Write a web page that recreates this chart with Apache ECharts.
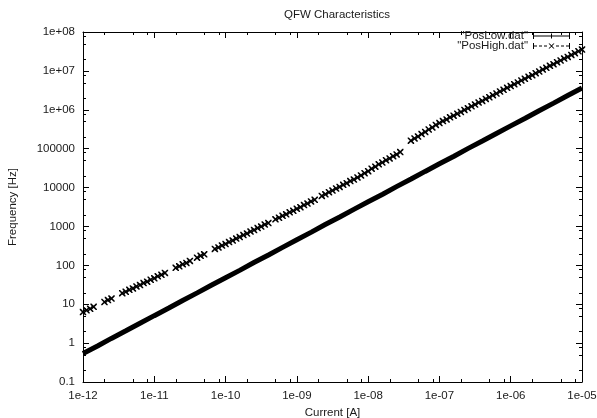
<!DOCTYPE html>
<html>
<head>
<meta charset="utf-8">
<title>QFW Characteristics</title>
<script src="https://cdn.jsdelivr.net/npm/echarts@6/dist/echarts.min.js"></script>
<style>
  html, body { margin: 0; padding: 0; background: #fff; }
  #chart { width: 597px; height: 418px; }
</style>
</head>
<body>
<div id="chart"></div>
<script>
// Tick labels, gnuplot style
const xTickLabels = ['1e-12', '1e-11', '1e-10', '1e-09', '1e-08', '1e-07', '1e-06', '1e-05'];
const yTickLabels = ['0.1', '1', '10', '100', '1000', '10000', '100000', '1e+06', '1e+07', '1e+08'];
const minorMantissas = [2, 5, 8];

// Measured [current (A), frequency (Hz)]
const posLow = [
  [1.0e-12, 0.54], [1.6e-12, 0.84], [2.5e-12, 1.32], [4.0e-12, 2.07], [6.3e-12, 3.24],
  [1.0e-11, 5.08], [1.6e-11, 7.97], [2.5e-11, 12.5], [4.0e-11, 19.6], [6.3e-11, 30.7],
  [1.0e-10, 48.1], [1.6e-10, 75.4], [2.5e-10, 118], [4.0e-10, 185], [6.3e-10, 290],
  [1.0e-9, 455], [1.6e-9, 713], [2.5e-9, 1118], [4.0e-9, 1752], [6.3e-9, 2747],
  [1.0e-8, 4306], [1.6e-8, 6750], [2.5e-8, 10580], [4.0e-8, 16580], [6.3e-8, 25990],
  [1.0e-7, 40740], [1.6e-7, 63870], [2.5e-7, 100100], [4.0e-7, 156900], [6.3e-7, 246000],
  [1.0e-6, 385500], [1.6e-6, 604300], [2.5e-6, 947100], [4.0e-6, 1485000], [6.3e-6, 2328000],
  [1.0e-5, 3648000]
];

const posHigh = [
  [1.00e-12, 6.3], [1.12e-12, 7.0], [1.26e-12, 7.6], [1.41e-12, 8.6],
  [2.00e-12, 11.4], [2.24e-12, 12.8], [2.51e-12, 14.0],
  [3.55e-12, 19.2], [3.98e-12, 20.8], [4.47e-12, 23.4], [5.01e-12, 25.4], [5.62e-12, 28.6],
  [6.31e-12, 31.0], [7.08e-12, 34.9], [7.94e-12, 38.0], [8.91e-12, 42.6],
  [1.00e-11, 46.5], [1.12e-11, 52.2], [1.26e-11, 56.9], [1.41e-11, 63.9],
  [2.00e-11, 86.5], [2.24e-11, 94.4], [2.51e-11, 106], [2.82e-11, 115], [3.16e-11, 130],
  [3.98e-11, 157], [4.47e-11, 176], [5.01e-11, 192],
  [7.08e-11, 264], [7.94e-11, 288], [8.91e-11, 323],
  [1.00e-10, 353], [1.12e-10, 397], [1.26e-10, 434], [1.41e-10, 488], [1.58e-10, 533],
  [1.78e-10, 601], [2.00e-10, 656], [2.24e-10, 739], [2.51e-10, 807], [2.82e-10, 909],
  [3.16e-10, 993], [3.55e-10, 1118], [3.98e-10, 1222],
  [5.01e-10, 1525], [5.62e-10, 1667], [6.31e-10, 1876], [7.08e-10, 2050], [7.94e-10, 2308],
  [8.91e-10, 2523],
  [1.00e-9, 2840], [1.12e-9, 3120], [1.26e-9, 3535], [1.41e-9, 3885], [1.58e-9, 4400],
  [1.78e-9, 4835], [2.24e-9, 6105], [2.51e-9, 6710], [2.82e-9, 7600],
  [3.16e-9, 8350], [3.55e-9, 9460], [3.98e-9, 10390], [4.47e-9, 11770], [5.01e-9, 12930],
  [5.62e-9, 14650], [6.31e-9, 16100], [7.08e-9, 18230], [7.94e-9, 20500], [8.91e-9, 23400],
  [1.00e-8, 26400], [1.12e-8, 30500], [1.26e-8, 34400], [1.41e-8, 39700], [1.58e-8, 44100],
  [1.78e-8, 50500], [2.00e-8, 56000], [2.24e-8, 64200], [2.51e-8, 71200], [2.82e-8, 81500],
  [3.98e-8, 160000], [4.47e-8, 183000], [5.01e-8, 205000], [5.62e-8, 238000], [6.31e-8, 270000],
  [7.08e-8, 311000], [7.94e-8, 352000], [8.91e-8, 407000],
  [1.00e-7, 455000], [1.12e-7, 513000], [1.26e-7, 566000], [1.41e-7, 638000], [1.58e-7, 704000],
  [1.78e-7, 794000], [2.00e-7, 877000], [2.24e-7, 988000], [2.51e-7, 1090000], [2.82e-7, 1230000],
  [3.16e-7, 1360000], [3.55e-7, 1530000], [3.98e-7, 1690000], [4.47e-7, 1900000], [5.01e-7, 2100000],
  [5.62e-7, 2370000], [6.31e-7, 2620000], [7.08e-7, 2950000], [7.94e-7, 3260000], [8.91e-7, 3670000],
  [1.00e-6, 4060000], [1.12e-6, 4560000], [1.26e-6, 5030000], [1.41e-6, 5660000], [1.58e-6, 6250000],
  [1.78e-6, 7030000], [2.00e-6, 7760000], [2.24e-6, 8730000], [2.51e-6, 9640000], [2.82e-6, 10800000],
  [3.16e-6, 12000000], [3.55e-6, 13500000], [3.98e-6, 14900000], [4.47e-6, 16700000], [5.01e-6, 18500000],
  [5.62e-6, 20700000], [6.31e-6, 22900000], [7.08e-6, 25700000], [7.94e-6, 28500000], [8.91e-6, 32000000],
  [1.00e-5, 35400000]
];

const X_MIN = 1e-12, X_MAX = 1e-5;
const Y_MIN = 0.1, Y_MAX = 1e8;
const FONT = '"Liberation Sans", Arial, Helvetica, sans-serif';
const INK = '#000';
const TEXT = '#1a1a1a';

// minor tick values inside each decade
function minorValues(minExp, maxExp) {
  const out = [];
  for (let e = minExp; e < maxExp; e++) {
    minorMantissas.forEach(m => out.push(m * Math.pow(10, e)));
  }
  return out;
}
const xMinor = minorValues(-12, -5).map(v => [v, 1]);
const yMinor = minorValues(-1, 8).map(v => [X_MIN, v]);

// legend icons: error-bar style keys
const lowIcon = 'path://M0,3.5h37v1h-37z M0,1h1v6h-1z M36,1h1v6h-1z M18,1.5h1v5h-1z';
const highIcon = 'path://M0,1h1v6h-1z M36,1h1v6h-1z ' +
  'M1,3.5h3v1h-3z M6,3.5h3v1h-3z M11,3.5h3v1h-3z M23,3.5h3v1h-3z M28,3.5h3v1h-3z M33,3.5h3v1h-3z ' +
  'M15.5,1.5L16.7,1.5L21.5,6.5L20.3,6.5Z M20.3,1.5L21.5,1.5L16.7,6.5L15.5,6.5Z';
const crossSymbol = 'path://M0,0L1.2,0L7,5.8L7,7L5.8,7L0,1.2Z M5.8,0L7,0L7,1.2L1.2,7L0,7L0,5.8Z';

const chart = echarts.init(document.getElementById('chart'), null, { renderer: 'canvas' });

function logAxis(extra) {
  return Object.assign({
    type: 'log',
    logBase: 10,
    axisLine: { show: true, lineStyle: { color: INK, width: 1 } },
    axisTick: { show: true, inside: true, length: 6, lineStyle: { color: INK, width: 1 } },
    splitLine: { show: false },
    minorTick: { show: false },
    minorSplitLine: { show: false }
  }, extra);
}

function minorTickRenderer(isX) {
  return function (params, api) {
    const cs = params.coordSys;
    const p = api.coord([api.value(0), api.value(1)]);
    const style = { stroke: INK, lineWidth: 1 };
    const L = 3;
    if (isX) {
      const x = Math.round(p[0]) + 0.5;
      return {
        type: 'group',
        children: [
          { type: 'line', shape: { x1: x, y1: cs.y + cs.height, x2: x, y2: cs.y + cs.height - L }, style },
          { type: 'line', shape: { x1: x, y1: cs.y, x2: x, y2: cs.y + L }, style }
        ]
      };
    }
    const y = Math.round(p[1]) + 0.5;
    return {
      type: 'group',
      children: [
        { type: 'line', shape: { x1: cs.x, y1: y, x2: cs.x + L, y2: y }, style },
        { type: 'line', shape: { x1: cs.x + cs.width, y1: y, x2: cs.x + cs.width - L, y2: y }, style }
      ]
    };
  };
}

const option = {
  animation: false,
  backgroundColor: '#fff',
  textStyle: { fontFamily: FONT },
  title: {
    text: 'QFW Characteristics',
    left: 332,
    textAlign: 'center',
    top: 4,
    textStyle: { fontFamily: FONT, fontSize: 11.5, fontWeight: 'normal', color: TEXT }
  },
  legend: {
    orient: 'vertical',
    right: 27,
    top: 30,
    align: 'right',
    itemWidth: 37,
    itemHeight: 8,
    itemGap: -2,
    padding: 0,
    selectedMode: false,
    textStyle: { fontFamily: FONT, fontSize: 11.5, color: TEXT },
    data: [
      { name: '"PosLow.dat"', icon: lowIcon, itemStyle: { color: INK } },
      { name: '"PosHigh.dat"', icon: highIcon, itemStyle: { color: INK } }
    ]
  },
  grid: { left: 83, right: 15, top: 32, bottom: 36, containLabel: false, outerBoundsMode: 'none' },
  xAxis: [
    logAxis({
      position: 'bottom',
      min: X_MIN, max: X_MAX,
      name: 'Current [A]',
      nameLocation: 'middle',
      nameGap: 23,
      nameTextStyle: { fontFamily: FONT, fontSize: 11.5, color: TEXT },
      axisLabel: {
        show: true, margin: 8, fontFamily: FONT, fontSize: 11.5, color: TEXT,
        formatter: v => xTickLabels[Math.round(Math.log10(v)) + 12] || ''
      }
    }),
    logAxis({ position: 'top', min: X_MIN, max: X_MAX, axisLabel: { show: false } })
  ],
  yAxis: [
    logAxis({
      position: 'left',
      min: Y_MIN, max: Y_MAX,
      name: 'Frequency [Hz]',
      nameLocation: 'middle',
      nameGap: 64,
      nameTextStyle: { fontFamily: FONT, fontSize: 11.5, color: TEXT },
      axisLabel: {
        show: true, margin: 8, fontFamily: FONT, fontSize: 11.5, color: TEXT,
        formatter: v => yTickLabels[Math.round(Math.log10(v)) + 1] || ''
      }
    }),
    logAxis({ position: 'right', min: Y_MIN, max: Y_MAX, axisLabel: { show: false } })
  ],
  series: [
    {
      name: '"PosLow.dat"',
      type: 'line',
      xAxisIndex: 0, yAxisIndex: 0,
      data: posLow,
      showSymbol: false,
      symbol: 'none',
      lineStyle: { color: INK, width: 5 },
      itemStyle: { color: INK },
      clip: true,
      silent: true,
      z: 3
    },
    {
      name: '"PosHigh.dat"',
      type: 'scatter',
      xAxisIndex: 0, yAxisIndex: 0,
      data: posHigh,
      symbol: crossSymbol,
      symbolSize: 6.5,
      itemStyle: { color: INK, opacity: 1 },
      clip: true,
      silent: true,
      z: 3
    },
    {
      type: 'custom',
      xAxisIndex: 0, yAxisIndex: 0,
      data: xMinor,
      renderItem: minorTickRenderer(true),
      silent: true,
      z: 4
    },
    {
      type: 'custom',
      xAxisIndex: 0, yAxisIndex: 0,
      data: yMinor,
      renderItem: minorTickRenderer(false),
      silent: true,
      z: 4
    }
  ]
};

chart.setOption(option);
</script>
</body>
</html>
